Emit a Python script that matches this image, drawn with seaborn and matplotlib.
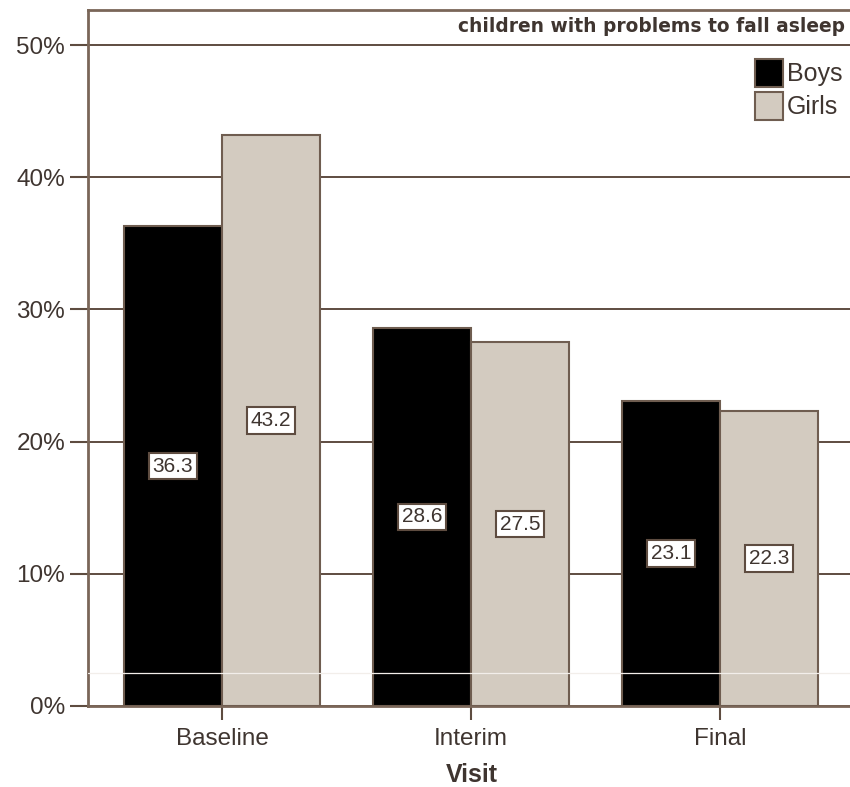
import matplotlib
matplotlib.use("Agg")
import matplotlib.pyplot as plt
import seaborn as sns
import pandas as pd
from matplotlib.patches import Patch

visits = ["Baseline", "Interim", "Final"]
boys = [36.3, 28.6, 23.1]
girls = [43.2, 27.5, 22.3]
groups = ["Boys", "Girls"]
y_ticks = [0, 10, 20, 30, 40, 50]
title_text = "children with problems to fall asleep"

df = pd.DataFrame({
    "Visit": visits * 2,
    "pct": boys + girls,
    "Sex": [groups[0]] * 3 + [groups[1]] * 3,
})

sns.set_theme(style="white")
plt.rcParams["font.family"] = ["Liberation Sans", "DejaVu Sans"]

BROWN = "#5e4c40"
TEXT = "#3f3530"
GIRL = "#d3cbc0"
EDGE = "#6f5d50"

W, H = 850, 787
fig = plt.figure(figsize=(W / 100, H / 100), dpi=100)
ax = fig.add_axes([88 / W, 1 - 706 / H, (856 - 88) / W, (706 - 10) / H])

sns.barplot(data=df, x="Visit", y="pct", hue="Sex", order=visits,
            hue_order=groups, palette=["#000000", GIRL], width=0.79,
            edgecolor=EDGE, linewidth=1.5, saturation=1,
            legend=False, ax=ax, zorder=3)

ax.set_xlim(-0.538, 2.546)
ax.set_ylim(0, 52.65)
ax.set_yticks(y_ticks)
ax.set_yticklabels([f"{t}%" for t in y_ticks], fontsize=17.5, color=TEXT)
ax.tick_params(axis="y", length=13, width=1.5, color=BROWN, pad=3.5, left=True)
ax.tick_params(axis="x", length=10, width=1.5, color=BROWN, pad=6, bottom=True,
               labelsize=17.5, labelcolor=TEXT)
ax.grid(axis="y", color=BROWN, linewidth=1.4, zorder=0)
ax.set_axisbelow(True)
for side in ["left", "top", "bottom"]:
    ax.spines[side].set_color("#7a6658")
    ax.spines[side].set_linewidth(2)
ax.spines["right"].set_visible(False)

ax.set_xlabel("Visit", fontsize=18, fontweight="bold", color=TEXT, labelpad=9.5)
ax.set_ylabel("")

# value boxes in the middle of every bar
for cont, vals in zip(ax.containers, [boys, girls]):
    for patch, v in zip(cont.patches, vals):
        cx = patch.get_x() + patch.get_width() / 2
        ax.text(cx, v / 2, f"{v:.1f}", ha="center", va="center", fontsize=15,
                color=TEXT, zorder=5,
                bbox=dict(boxstyle="square,pad=0.18", fc="white", ec=BROWN, lw=1.5))

# thin light streak across the lower part of the bars
ax.axhline(2.5, color="#f2eeea", lw=0.9, zorder=4)

# chart caption in the top band
fig.text(845 / W, 1 - 27 / H, title_text, ha="right", va="center",
         fontsize=13.4, fontweight="bold", color=TEXT, family="DejaVu Sans")

# legend squares
handles = [Patch(facecolor="#000000", edgecolor=EDGE, lw=1.5),
           Patch(facecolor=GIRL, edgecolor=EDGE, lw=1.5)]
leg = ax.legend(handles, groups, loc="upper right",
                bbox_to_anchor=(855 / W, 1 - 46 / H),
                bbox_transform=fig.transFigure, frameon=False, fontsize=18,
                handlelength=1.12, handleheight=1.35, handletextpad=0.15,
                labelspacing=0.22, borderpad=0)
for t in leg.get_texts():
    t.set_color(TEXT)

fig.savefig("out.png", dpi=100)
